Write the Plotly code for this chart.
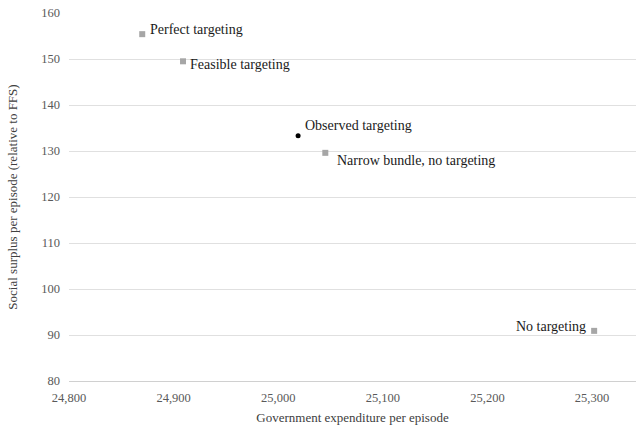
import plotly.graph_objects as go

labels = ["Perfect targeting", "Feasible targeting", "Observed targeting",
          "Narrow bundle, no targeting", "No targeting"]
expenditure = [24870, 24909, 25019, 25045, 25302]
surplus = [155.4, 149.5, 133.3, 129.6, 90.9]
is_observed = [False, False, True, False, False]

x_ticks = [24800, 24900, 25000, 25100, 25200, 25300]
x_ticktext = ["24,800", "24,900", "25,000", "25,100", "25,200", "25,300"]
y_ticks = [80, 90, 100, 110, 120, 130, 140, 150, 160]

FONT = "Liberation Serif, Times New Roman, serif"

sq_x = [x for x, o in zip(expenditure, is_observed) if not o]
sq_y = [y for y, o in zip(surplus, is_observed) if not o]
ob_x = [x for x, o in zip(expenditure, is_observed) if o]
ob_y = [y for y, o in zip(surplus, is_observed) if o]

fig = go.Figure()
fig.add_trace(go.Scatter(x=sq_x, y=sq_y, mode="markers",
                         marker=dict(symbol="square", size=6, color="#a6a6a6"),
                         showlegend=False, hoverinfo="skip"))
fig.add_trace(go.Scatter(x=ob_x, y=ob_y, mode="markers",
                         marker=dict(symbol="circle", size=5, color="#000000"),
                         showlegend=False, hoverinfo="skip"))

# label offsets (pixels) : xshift, yshift, xanchor
offsets = [(6, 5, "left"), (5, -3, "left"), (5, 10, "left"), (10, -8, "left"), (-6, 4, "right")]
for lab, x, y, (dx, dy, xa) in zip(labels, expenditure, surplus, offsets):
    fig.add_annotation(x=x, y=y, text=lab, showarrow=False, xanchor=xa, yanchor="middle",
                       xshift=dx, yshift=dy, font=dict(family=FONT, size=14, color="#1a1a1a"))

fig.update_layout(
    width=637, height=425,
    margin=dict(l=69, r=1, t=13, b=44),
    paper_bgcolor="white", plot_bgcolor="white",
    font=dict(family=FONT, size=12.5, color="#595959"),
    xaxis=dict(range=[24800, 25342], tickvals=x_ticks, ticktext=x_ticktext,
               showgrid=False, zeroline=False, showline=True, linecolor="#d0d0d0",
               linewidth=1, ticks="", ticklabelstandoff=5, automargin=False,
               tickfont=dict(family=FONT, size=12.5, color="#595959"),
               title=dict(text="Government expenditure per episode", standoff=8,
                          font=dict(family=FONT, size=13, color="#404040"))),
    yaxis=dict(range=[80, 160], tickvals=y_ticks, showgrid=True, gridcolor="#e0e0e0",
               gridwidth=1, zeroline=False, showline=False, ticks="", ticklabelstandoff=8,
               automargin=False,
               tickfont=dict(family=FONT, size=12.5, color="#595959"),
               title=dict(text="Social surplus per episode (relative to FFS)", standoff=20,
                          font=dict(family=FONT, size=13, color="#404040"))),
)

fig.write_html("out.html", config={"displayModeBar": False},
               post_script="document.body.style.margin='0';document.body.style.overflow='hidden';")
